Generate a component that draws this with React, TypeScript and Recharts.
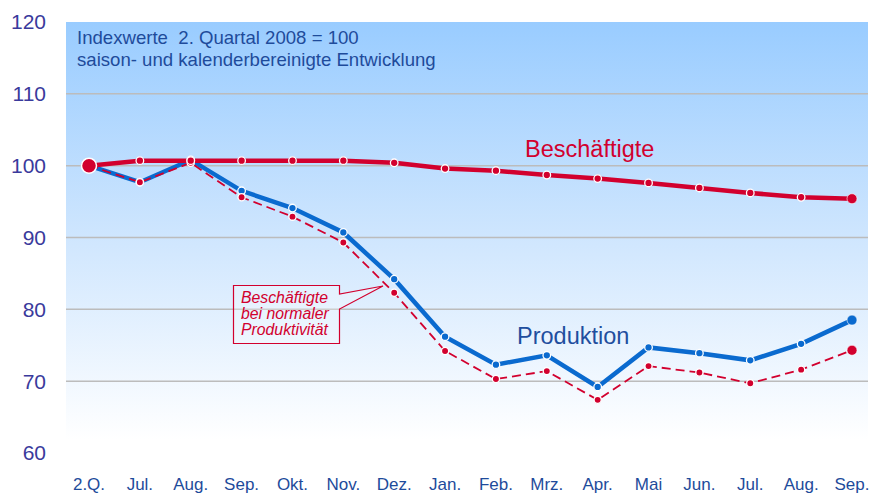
import React from 'react';
import { LineChart, Line, XAxis, YAxis, CartesianGrid } from 'recharts';

const categories = ['2.Q.', 'Jul.', 'Aug.', 'Sep.', 'Okt.', 'Nov.', 'Dez.', 'Jan.', 'Feb.', 'Mrz.', 'Apr.', 'Mai', 'Jun.', 'Jul.', 'Aug.', 'Sep.'];
const beschaeftigte = [100, 100.7, 100.7, 100.7, 100.7, 100.7, 100.4, 99.6, 99.3, 98.7, 98.2, 97.6, 96.9, 96.2, 95.6, 95.4];
const produktion = [100, 97.7, 100.8, 96.5, 94.1, 90.7, 84.2, 76.2, 72.3, 73.6, 69.2, 74.7, 73.9, 72.9, 75.2, 78.5];
const normalProd = [100, 97.7, 100.4, 95.6, 92.9, 89.3, 82.3, 74.2, 70.3, 71.4, 67.4, 72.1, 71.2, 69.7, 71.6, 74.3];
const yTicks = [60, 70, 80, 90, 100, 110, 120];
const gridValues = [70, 80, 90, 100, 110];

const data = categories.map((c, i) => ({
  cat: c + '#' + i,
  label: c,
  b: beschaeftigte[i],
  p: produktion[i],
  n: normalProd[i],
}));

const RED = '#D2002E';
const BLUE = '#0A6ACF';
const FONT = '"Liberation Sans", Arial, sans-serif';

const makeDot = (color: string, firstBig: boolean, smallR: number) => (props: any) => {
  const { cx, cy, index } = props;
  if (cx == null || cy == null) return <g key={'d' + index} />;
  const last = index === categories.length - 1;
  if (index === 0 && firstBig) {
    return <circle key={'d' + index} cx={cx} cy={cy} r={7.5} fill={color} stroke="#fff" strokeWidth={1.5} />;
  }
  if (last) {
    return <circle key={'d' + index} cx={cx} cy={cy} r={5} fill={color} stroke="#fff" strokeWidth={0.6} />;
  }
  return <circle key={'d' + index} cx={cx} cy={cy} r={smallR} fill={color} stroke="#fff" strokeWidth={1.3} />;
};

const XTick = (props: any) => {
  const { x, y, payload } = props;
  const label = String(payload.value).split('#')[0];
  return (
    <text x={x} y={y} dy="0.71em" textAnchor="middle" fill="#1E4B9B" fontSize={17} fontFamily={FONT}>
      {label}
    </text>
  );
};

export default function App() {
  return (
    <div style={{ position: 'absolute', left: 0, top: 0, width: 872, height: 495 }}>
      <LineChart width={872} height={495} data={data} margin={{ top: 22, right: 4, bottom: 0, left: 0 }}>
        <defs>
          <linearGradient id="bgGrad" x1="0" y1="0" x2="0" y2="1">
            <stop offset="0" stopColor="#99CCFF" />
            <stop offset="0.5" stopColor="#CFE6FE" />
            <stop offset="0.97" stopColor="#FFFFFF" />
          </linearGradient>
        </defs>
        <CartesianGrid
          vertical={false}
          horizontalValues={gridValues}
          stroke="#BCBCBC"
          strokeWidth={1.5}
          fill="url(#bgGrad)"
          fillOpacity={1}
        />
        <XAxis
          dataKey="cat"
          type="category"
          interval={0}
          padding={{ left: 23, right: 16 }}
          axisLine={false}
          tickLine={false}
          tickSize={6}
          tickMargin={19}
          height={42}
          tick={<XTick />}
        />
        <YAxis
          domain={[60, 120]}
          ticks={yTicks}
          width={66}
          axisLine={false}
          tickLine={false}
          tickSize={6}
          tickMargin={14}
          tick={{ fill: '#3A3A9C', fontSize: 21, fontFamily: FONT }}
        />
        <Line
          dataKey="p"
          stroke={BLUE}
          strokeWidth={4.5}
          dot={makeDot(BLUE, false, 3.8)}
          isAnimationActive={false}
        />
        <Line
          dataKey="n"
          stroke={RED}
          strokeWidth={1.8}
          strokeDasharray="9 5"
          dot={makeDot(RED, false, 3.6)}
          isAnimationActive={false}
        />
        <Line
          dataKey="b"
          stroke={RED}
          strokeWidth={4.5}
          dot={makeDot(RED, true, 3.8)}
          isAnimationActive={false}
        />
      </LineChart>
      <svg
        width={872}
        height={495}
        style={{ position: 'absolute', left: 0, top: 0, pointerEvents: 'none' }}
      >
        <text x={77} y={44} fontSize={18.6} fill="#1E4B9B" fontFamily={FONT} style={{ whiteSpace: 'pre' }}>
          Indexwerte  2. Quartal 2008 = 100
        </text>
        <text x={77} y={66} fontSize={18.6} fill="#1E4B9B" fontFamily={FONT}>
          saison- und kalenderbereinigte Entwicklung
        </text>
        <text x={525} y={157} fontSize={23.5} fill={RED} fontFamily={FONT}>
          Beschäftigte
        </text>
        <text x={517} y={344} fontSize={23.5} fill="#1F4E9E" fontFamily={FONT}>
          Produktion
        </text>
        <path
          d="M233.5,285.5 L339.5,285.5 L339.5,294 L383,286 L339.5,309 L339.5,343.5 L233.5,343.5 Z"
          fill="rgba(255,255,255,0.25)"
          stroke={RED}
          strokeWidth={1.2}
        />
        <g fontSize={15.8} fill={RED} fontFamily={FONT} fontStyle="italic">
          <text x={241} y={303}>Beschäftigte</text>
          <text x={241} y={319}>bei normaler</text>
          <text x={241} y={335}>Produktivität</text>
        </g>
      </svg>
    </div>
  );
}
